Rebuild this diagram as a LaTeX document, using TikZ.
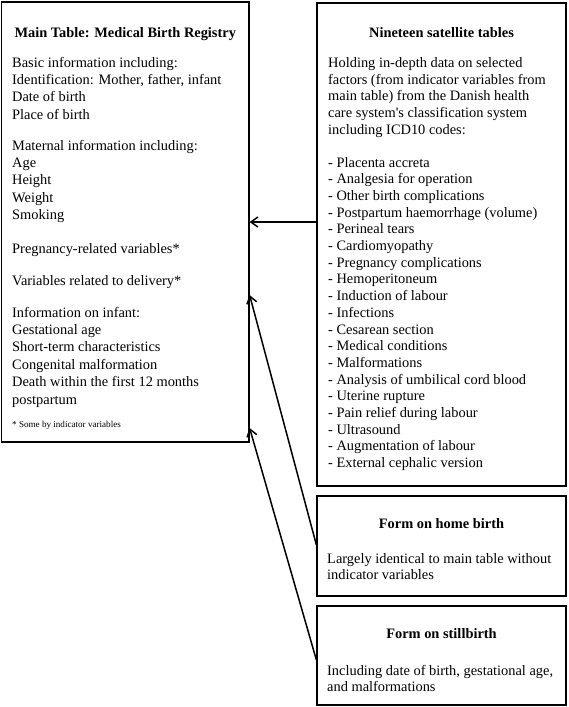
\documentclass[tikz,border=0pt]{standalone}
\usepackage{fontspec}
\setmainfont{Liberation Serif}
\usetikzlibrary{arrows.meta}
\newcommand\blk[1]{\parbox[t]{330pt}{\raggedright #1}}
\begin{document}
\begin{tikzpicture}[x=1pt,y=-1pt,
  box/.style={draw, line width=1.2pt, rectangle, inner sep=0pt},
  ttl/.style={anchor=base, inner sep=0pt, font=\fontsize{14.4}{17.4}\selectfont\bfseries},
  txt/.style={anchor=base west, inner sep=0pt, font=\fontsize{14.4}{17.4}\selectfont},
  lst/.style={anchor=base west, inner sep=0pt, font=\fontsize{14.4}{16.7}\selectfont},
  note/.style={anchor=base west, inner sep=0pt, font=\fontsize{9.1}{11}\selectfont},
  arr/.style={line width=1.5pt, -{Straight Barb[length=7pt,width=10pt]}}]
\useasboundingbox (0,0) rectangle (568,707);

% boxes
\node[box, minimum width=247.5pt, minimum height=440pt] (main) at (125.25,222) {};
\node[box, minimum width=249pt, minimum height=483pt] (sat) at (441.5,244.5) {};
\node[box, minimum width=249pt, minimum height=100pt] (home) at (441.5,546) {};
\node[box, minimum width=249pt, minimum height=99pt] (still) at (441.5,655.5) {};

% main table text
\node[ttl] (mt) at (125.25,37) {Main Table: Medical Birth Registry};
\node[txt] (m1) at (12,67) {\blk{Basic information including:\\Identification: Mother, father, infant\\Date of birth\\Place of birth}};
\node[txt] (m2) at (12,150) {\blk{Maternal information including:\\Age\\Height\\Weight\\Smoking}};
\node[txt] (m3) at (12,253) {Pregnancy-related variables*};
\node[txt] (m4) at (12,285) {Variables related to delivery*};
\node[txt] (m5) at (12,317) {\blk{Information on infant:\\Gestational age\\Short-term characteristics\\Congenital malformation\\Death within the first 12 months\\postpartum}};
\node[note] (mn) at (12,427) {* Some by indicator variables};

% satellite tables text
\node[ttl] (st) at (441.5,37) {Nineteen satellite tables};
\node[lst] (s1) at (328,67.5) {\blk{Holding in-depth data on selected\\factors (from indicator variables from\\main table) from the Danish health\\care system\textquotesingle s classification system\\including ICD10 codes:}};
\node[lst] (s2) at (328,167) {\blk{- Placenta accreta\\- Analgesia for operation\\- Other birth complications\\- Postpartum haemorrhage (volume)\\- Perineal tears\\- Cardiomyopathy\\- Pregnancy complications\\- Hemoperitoneum\\- Induction of labour\\- Infections\\- Cesarean section\\- Medical conditions\\- Malformations\\- Analysis of umbilical cord blood\\- Uterine rupture\\- Pain relief during labour\\- Ultrasound\\- Augmentation of labour\\- External cephalic version}};

% home birth
\node[ttl] (ht) at (441.5,528) {Form on home birth};
\node[lst] (h1) at (327,563) {\blk{Largely identical to main table without\\indicator variables}};

% stillbirth
\node[ttl] (bt) at (441.5,638) {Form on stillbirth};
\node[lst] (b1) at (327,675) {\blk{Including date of birth, gestational age,\\and malformations}};

% connectors
\coordinate (a1) at (0,222);
\coordinate (a2s) at (0,545);
\coordinate (a2e) at (0,295);
\coordinate (a3s) at (0,660);
\coordinate (a3e) at (0,428);
\draw[arr] (sat.west |- a1) -- (main.east |- a1);
\draw[arr] (home.west |- a2s) -- (main.east |- a2e);
\draw[arr] (still.west |- a3s) -- (main.east |- a3e);
\end{tikzpicture}
\end{document}
